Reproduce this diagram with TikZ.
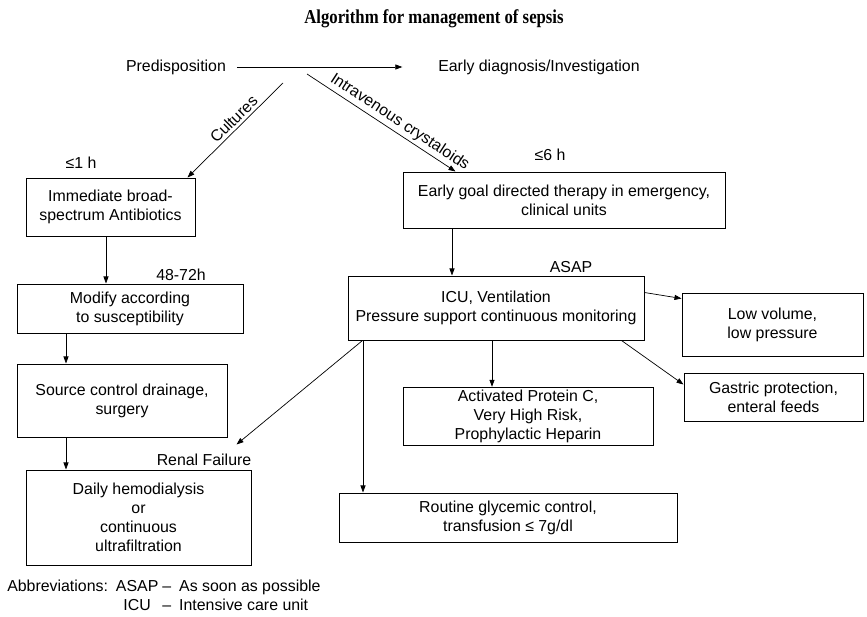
\documentclass[tikz,border=0pt]{standalone}
\usepackage{fontspec}
\setmainfont{Liberation Sans}
\newfontfamily\titlefont[FakeStretch=0.85]{Liberation Serif}
\usetikzlibrary{arrows.meta,calc}

\newlength\unitpx
\setlength\unitpx{0.025cm}

\begin{document}
\begin{tikzpicture}[x=0.025cm, y=-0.025cm,
    % Node styles
    every node/.style={font=\fontsize{11.3}{13.5}\selectfont},
    box/.style={rectangle, draw=black, line width=0.7pt, align=center,
                inner sep=2pt},
    timing/.style={inner sep=1pt},
    arrow/.style={->, >={Triangle[length=5pt, width=3.6pt]}, line width=0.5pt, black}
]
\useasboundingbox (0,0) rectangle (867,617);

% Title
\node[font={\titlefont\bfseries\fontsize{14}{16}\selectfont}] (title) at (434,19)
    {Algorithm for management of sepsis};

% Top row
\node (predisp) at (176,67) {Predisposition};
\node (early) at (539,67) {Early diagnosis/Investigation};
\coordinate (cultstart) at (283,83);
\coordinate (ivstart) at (307,74);

% Left branch
\node[box, minimum width=169\unitpx, minimum height=58\unitpx] (abx) at (110.5,207) {
    Immediate broad-\\
    spectrum Antibiotics
};
\node[box, minimum width=226\unitpx, minimum height=49\unitpx] (modify) at (130,308.5) {
    Modify according\\
    to susceptibility
};
\node[box, minimum width=210\unitpx, minimum height=73\unitpx] (source) at (122,400.5) {
    Source control drainage,\\
    surgery
};
\node[box, minimum width=225\unitpx, minimum height=95\unitpx] (dialysis) at (138.5,517.5) {
    Daily hemodialysis\\
    or\\
    continuous\\
    ultrafiltration
};

% Right branch
\node[box, minimum width=322\unitpx, minimum height=56\unitpx] (egdt) at (564,200) {
    Early goal directed therapy in emergency,\\
    clinical units
};
\node[box, minimum width=296\unitpx, minimum height=64\unitpx] (icu) at (496,308) {
    ICU, Ventilation\\
    Pressure support continuous monitoring
};
\node[box, minimum width=181\unitpx, minimum height=63\unitpx] (lowvol) at (772.5,324.5) {
    Low volume,\\
    low pressure
};
\node[box, minimum width=179\unitpx, minimum height=48\unitpx] (gastric) at (773.5,397) {
    Gastric protection,\\
    enteral feeds
};
\node[box, minimum width=250\unitpx, minimum height=57\unitpx] (apc) at (528,416.5) {
    Activated Protein C,\\
    Very High Risk,\\
    Prophylactic Heparin
};
\node[box, minimum width=338\unitpx, minimum height=49\unitpx] (glyc) at (508,517.5) {
    Routine glycemic control,\\
    transfusion ≤ 7g/dl
};

% Timing labels
\node[timing] (t1h) at (81,163) {≤1 h};
\node[timing] (t6h) at (550,155) {≤6 h};
\node[timing] (t48) at (181,275) {48-72h};
\node[timing] (tasap) at (571,267) {ASAP};
\node[timing] (renal) at (204,460) {Renal Failure};
\coordinate (renaltip) at ($(dialysis.north east)+(-15,-25)$);

% Abbreviations
\node[anchor=north west, inner sep=0pt] (abbr) at (7,578) {%
    \begin{tabular}{@{}l@{\hspace{8\unitpx}}c@{\hspace{4\unitpx}}c@{\hspace{8\unitpx}}l@{}}
    Abbreviations: & ASAP & -- & As soon as possible\\
                   & ICU  & -- & Intensive care unit
    \end{tabular}};

% Top flow
\draw[arrow, shorten <=6\unitpx, shorten >=31\unitpx] (predisp) -- (early);
\draw[arrow] (cultstart) -- ($(abx.north east)+(-8,0)$)
    node[pos=0.45, sloped, above, inner sep=2pt] {Cultures};
\draw[arrow] (ivstart) -- ($(egdt.north west)+(53,0)$)
    node[pos=0.585, sloped, above, inner sep=2pt] {Intravenous crystaloids};

% Left column
\draw[arrow] (106,0 |- abx.south) -- (106,0 |- modify.north);
\draw[arrow] (66,0 |- modify.south) -- (66,0 |- source.north);
\draw[arrow] (66,0 |- source.south) -- (66,0 |- dialysis.north);

% Right column
\draw[arrow] (452,0 |- egdt.south) -- (452,0 |- icu.north);
\draw[arrow] ($(icu.north east)+(0,17)$) -- ($(lowvol.north west)+(0,6)$);
\draw[arrow] ($(icu.south east)+(-23,0)$) -- ($(gastric.north west)+(0,12)$);
\draw[arrow] (492,0 |- icu.south) -- (492,0 |- apc.north);
\draw[arrow] (363,0 |- icu.south) -- (363,0 |- glyc.north);
\draw[arrow] ($(icu.south west)+(15,0)$) -- (renaltip);

\end{tikzpicture}
\end{document}
